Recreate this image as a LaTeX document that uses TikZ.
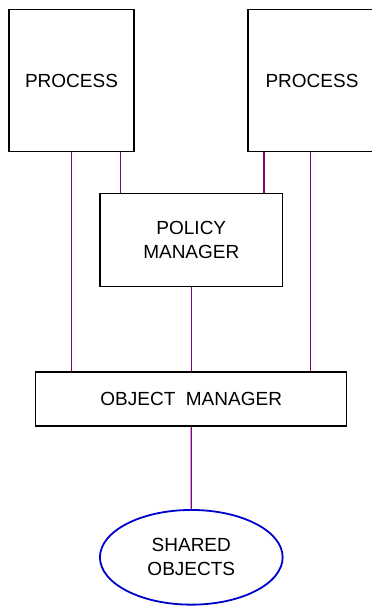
\documentclass[tikz,border=0pt]{standalone}
\usepackage{fontspec}
\setmainfont{Liberation Sans}
\usetikzlibrary{shapes.geometric}
\definecolor{linkpurple}{HTML}{800080}
\definecolor{ellblue}{HTML}{0000CC}
\begin{document}
\begin{tikzpicture}[x=1pt,y=-1pt,
  box/.style={draw=black,line width=1.4pt,rectangle,inner sep=0pt,align=center,
    font=\fontsize{19}{23.7}\selectfont},
  oval/.style={draw=ellblue,line width=1.8pt,ellipse,inner sep=0pt,align=center,
    font=\fontsize{19}{23.7}\selectfont},
  link/.style={draw=linkpurple,line width=1.3pt}]
\clip (0,0) rectangle (372,606);
\node[box,minimum width=125pt,minimum height=142.5pt] (lp) at (71.5,80.5) {PROCESS};
\node[box,minimum width=128pt,minimum height=142.5pt] (rp) at (312,80.5) {PROCESS};
\node[box,minimum width=182.7pt,minimum height=93.4pt] (pm) at (191.3,240) {POLICY\\MANAGER};
\node[box,minimum width=311pt,minimum height=54pt] (om) at (191.2,399) {OBJECT\ \ MANAGER};
\node[oval,minimum width=182.7pt,minimum height=94.7pt] (so) at (191.3,557.3) {SHARED\\OBJECTS};
\draw[link] (lp.south) -- (lp.south |- om.north);
\draw[link] ([xshift=49.2pt]lp.south) -- ([xshift=49.2pt]lp.south |- pm.north);
\draw[link] ([xshift=-48pt]rp.south) -- ([xshift=-48pt]rp.south |- pm.north);
\draw[link] ([xshift=-1.3pt]rp.south) -- ([xshift=-1.3pt]rp.south |- om.north);
\draw[link] (pm.south) -- (pm.south |- om.north);
\draw[link] (om.south) -- (so.north);
\end{tikzpicture}
\end{document}
